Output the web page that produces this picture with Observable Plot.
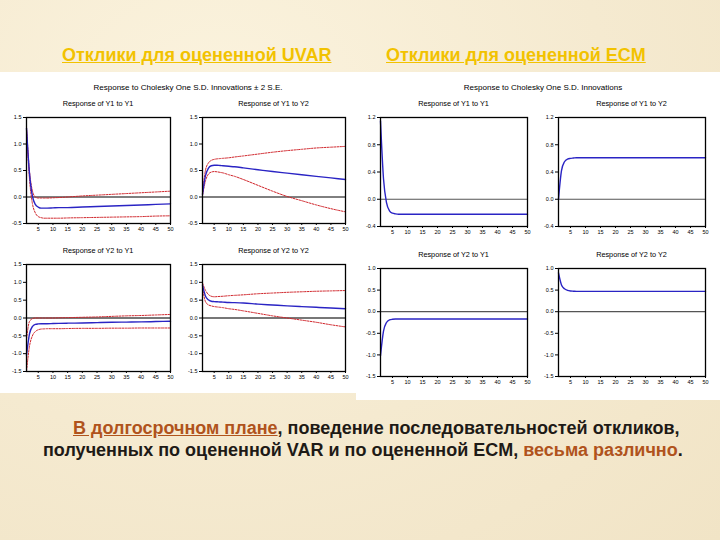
<!DOCTYPE html>
<html><head><meta charset="utf-8">
<script src="https://cdn.jsdelivr.net/npm/d3@7"></script>
<script src="https://cdn.jsdelivr.net/npm/@observablehq/plot@0.6"></script>
<style>
body{margin:0;}
#page{position:relative;width:720px;height:540px;overflow:hidden;font-family:"Liberation Sans",Arial,sans-serif;
background:radial-gradient(ellipse at 30% 20%, #fbf3de 0%, #f5ead0 55%, #f1e4c6 100%);}
.head{position:absolute;top:45px;font-size:18px;font-weight:bold;color:#f2c200;text-decoration:underline;white-space:nowrap;}
.panel{position:absolute;background:#ffffff;}
.sup{position:absolute;font-size:8px;color:#000;white-space:nowrap;transform:translateX(-50%);}
.sub{position:absolute;font-size:7.3px;color:#000;white-space:nowrap;transform:translateX(-50%);}
.plot{position:absolute;}
.txt{position:absolute;font-size:18px;font-weight:bold;color:#1e1a16;white-space:nowrap;}
.br{color:#b0531c;}
</style></head>
<body><div id="page"></div>
<script>
// ---- data ----
const periods = [1,2,3,4,5,6,7,8,10,12,15,20,25,30,35,40,45,50];
const xTicks = [5,10,15,20,25,30,35,40,45,50];

// UVAR (with ±2 S.E. bands)
const uvarY1Y1 = [1.30,0.45,0.02,-0.14,-0.19,-0.21,-0.21,-0.21,-0.205,-0.20,-0.20,-0.19,-0.18,-0.17,-0.16,-0.15,-0.14,-0.13];
const uvarY1Y1Up = [1.32,0.50,0.12,0.00,-0.02,-0.02,-0.02,-0.02,-0.015,-0.01,0.00,0.02,0.035,0.05,0.065,0.08,0.095,0.11];
const uvarY1Y1Lo = [1.28,0.35,-0.12,-0.30,-0.37,-0.39,-0.40,-0.40,-0.40,-0.40,-0.395,-0.39,-0.385,-0.38,-0.375,-0.37,-0.36,-0.355];

const uvarY1Y2 = [0.05,0.40,0.54,0.59,0.60,0.60,0.595,0.59,0.58,0.57,0.55,0.515,0.48,0.45,0.42,0.39,0.36,0.33];
const uvarY1Y2Up = [0.07,0.50,0.64,0.69,0.71,0.72,0.725,0.73,0.74,0.755,0.775,0.81,0.845,0.875,0.90,0.925,0.94,0.955];
const uvarY1Y2Lo = [0.03,0.30,0.43,0.47,0.48,0.475,0.465,0.455,0.42,0.39,0.33,0.22,0.11,0.01,-0.07,-0.15,-0.22,-0.28];

const uvarY2Y1 = [-1.05,-0.45,-0.24,-0.18,-0.165,-0.16,-0.16,-0.16,-0.155,-0.15,-0.145,-0.14,-0.13,-0.12,-0.115,-0.11,-0.10,-0.09];
const uvarY2Y1Up = [-0.60,-0.10,-0.02,0.00,0.00,0.00,0.00,0.00,0.00,0.005,0.01,0.02,0.03,0.045,0.06,0.07,0.085,0.10];
const uvarY2Y1Lo = [-1.50,-0.80,-0.50,-0.38,-0.33,-0.31,-0.305,-0.30,-0.30,-0.30,-0.295,-0.29,-0.29,-0.285,-0.285,-0.28,-0.28,-0.28];

const uvarY2Y2 = [0.92,0.62,0.51,0.47,0.46,0.455,0.45,0.445,0.435,0.43,0.42,0.39,0.365,0.34,0.32,0.30,0.28,0.26];
const uvarY2Y2Up = [0.98,0.78,0.66,0.61,0.595,0.60,0.605,0.61,0.625,0.635,0.65,0.68,0.70,0.72,0.735,0.75,0.76,0.77];
const uvarY2Y2Lo = [0.86,0.46,0.37,0.34,0.32,0.31,0.30,0.29,0.26,0.24,0.20,0.13,0.06,0.00,-0.06,-0.12,-0.19,-0.25];

// ECM
const ecmY1Y1 = [1.15,0.30,-0.05,-0.17,-0.205,-0.215,-0.22,-0.22,-0.22,-0.22,-0.22,-0.22,-0.22,-0.22,-0.22,-0.22,-0.22,-0.22];
const ecmY1Y2 = [0.00,0.42,0.55,0.59,0.60,0.605,0.61,0.61,0.61,0.61,0.61,0.61,0.61,0.61,0.61,0.61,0.61,0.61];
const ecmY2Y1 = [-1.02,-0.45,-0.25,-0.19,-0.175,-0.17,-0.17,-0.17,-0.17,-0.17,-0.17,-0.17,-0.17,-0.17,-0.17,-0.17,-0.17,-0.17];
const ecmY2Y2 = [0.90,0.62,0.53,0.495,0.48,0.475,0.47,0.47,0.47,0.47,0.47,0.47,0.47,0.47,0.47,0.47,0.47,0.47];

const uvarTicksTop = [-0.5,0,0.5,1.0,1.5];
const uvarTicksBot = [-1.5,-1.0,-0.5,0,0.5,1.0,1.5];
const ecmTicksTop = [-0.4,0,0.4,0.8,1.2];
const ecmTicksBot = [-1.5,-1.0,-0.5,0,0.5,1.0];

// ---- layout ----
const page = document.getElementById("page");
function el(cls, html, css){const d=document.createElement("div");d.className=cls;d.innerHTML=html;Object.assign(d.style,css);page.appendChild(d);return d;}

el("panel","",{left:"0px",top:"72px",width:"356px",height:"321px"});
el("panel","",{left:"356px",top:"72px",width:"364px",height:"328px"});
el("head","Отклики для оцененной UVAR",{left:"62px"});
el("head","Отклики для оцененной ECM",{left:"386px"});
el("sup","Response to Cholesky One S.D. Innovations ± 2 S.E.",{left:"188px",top:"83px"});
el("sup","Response to Cholesky One S.D. Innovations",{left:"543px",top:"83px"});

const BLUE="#2a24c4", RED="#d0242a";
function toRows(arr){return periods.map((p,i)=>({p, v:arr[i]}));}

function panel(title, box, yDomain, yTicks, series, zeroStyle){
  const [x0,y0,x1,y1] = box;
  const ml=26, mr=4, mt=4, mb=14;
  el("sub", title, {left:((x0+x1)/2)+"px", top:(y0-18)+"px"});
  const marks = [
    Plot.ruleY([0], zeroStyle),
  ];
  for (const s of series) {
    marks.push(Plot.line(toRows(s.data), {x:"p", y:"v", curve:"monotone-x", stroke:s.stroke, strokeWidth:s.w, strokeDasharray:s.dash}));
  }
  marks.push(Plot.frame({stroke:"#000", strokeWidth:1.3}));
  const svg = Plot.plot({
    width:(x1-x0)+ml+mr, height:(y1-y0)+mt+mb,
    marginLeft:ml, marginRight:mr, marginTop:mt, marginBottom:mb,
    x:{domain:[1,50], ticks:xTicks, tickSize:2, tickPadding:2, label:null},
    y:{domain:yDomain, ticks:yTicks, tickFormat:d=>d.toFixed(1), tickSize:3, tickPadding:2, label:null},
    style:{fontSize:"5.5px", fontFamily:"Liberation Sans, Arial, sans-serif", background:"transparent", color:"#000", overflow:"visible"},
    marks
  });
  const wrap = el("plot","",{left:(x0-ml)+"px", top:(y0-mt)+"px"});
  wrap.appendChild(svg);
}

const band = (c,u,l)=>[
  {data:u, stroke:RED, w:1, dash:"2,1.3"},
  {data:l, stroke:RED, w:1, dash:"2,1.3"},
  {data:c, stroke:BLUE, w:1.4}
];
const zBlack = {stroke:"#000", strokeWidth:1};
const zGrey = {stroke:"#777", strokeWidth:2};
const zEcm = {stroke:"#555", strokeWidth:1.2};

panel("Response of Y1 to Y1",[26,117,170,223],[-0.5,1.5],uvarTicksTop,band(uvarY1Y1,uvarY1Y1Up,uvarY1Y1Lo),zBlack);
panel("Response of Y1 to Y2",[202,117,345,223],[-0.5,1.5],uvarTicksTop,band(uvarY1Y2,uvarY1Y2Up,uvarY1Y2Lo),zBlack);
panel("Response of Y2 to Y1",[26,264,170,371],[-1.5,1.5],uvarTicksBot,band(uvarY2Y1,uvarY2Y1Up,uvarY2Y1Lo),zGrey);
panel("Response of Y2 to Y2",[202,264,345,371],[-1.5,1.5],uvarTicksBot,band(uvarY2Y2,uvarY2Y2Up,uvarY2Y2Lo),zGrey);

panel("Response of Y1 to Y1",[380,117,527,226],[-0.4,1.2],ecmTicksTop,[{data:ecmY1Y1,stroke:BLUE,w:1.4}],zEcm);
panel("Response of Y1 to Y2",[558,117,705,226],[-0.4,1.2],ecmTicksTop,[{data:ecmY1Y2,stroke:BLUE,w:1.4}],zEcm);
panel("Response of Y2 to Y1",[380,268,527,376],[-1.5,1.0],ecmTicksBot,[{data:ecmY2Y1,stroke:BLUE,w:1.4}],zEcm);
panel("Response of Y2 to Y2",[558,268,705,376],[-1.5,1.0],ecmTicksBot,[{data:ecmY2Y2,stroke:BLUE,w:1.4}],zEcm);

el("txt",'<span class="br" style="text-decoration:underline">В долгосрочном плане</span>, поведение последовательностей откликов,',{left:"73px",top:"418px"});
el("txt",'полученных по оцененной VAR и по оцененной ECM, <span class="br">весьма различно</span>.',{left:"43px",top:"440px"});
</script>
</body></html>
